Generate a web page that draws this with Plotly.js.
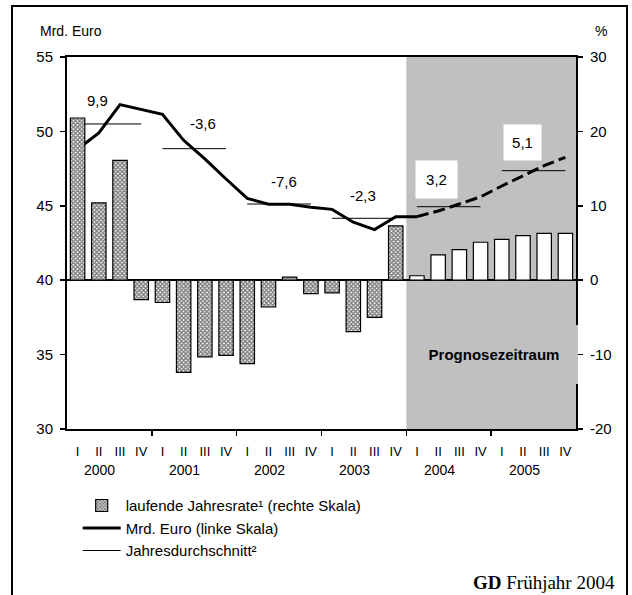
<!DOCTYPE html>
<html><head><meta charset="utf-8">
<script src="https://cdn.plot.ly/plotly-3.0.1.min.js"></script>
<style>
html,body{margin:0;padding:0;background:#fff;}
#chart{width:632px;height:595px;position:relative;}
#frame{position:absolute;left:11px;top:5px;width:617px;height:600px;border:2px solid #000;pointer-events:none;box-sizing:border-box;}
</style></head>
<body>
<div id="chart"></div>
<div id="frame"></div>
<script>
const quarters = ['I','II','III','IV'];
const years = ['2000','2001','2002','2003','2004','2005'];
// laufende Jahresrate (% , rechte Skala)
const rate = [21.8,10.4,16.1,-2.6,-3.0,-12.4,-10.3,-10.1,-11.2,-3.6,0.4,-1.8,-1.7,-6.9,-5.0,7.3,0.6,3.4,4.1,5.1,5.5,6.0,6.3,6.3];
// Mrd. Euro (linke Skala)
const mrdEuro = [48.8,49.9,51.8,51.5,51.15,49.4,48.15,46.8,45.5,45.1,45.1,44.9,44.76,43.9,43.4,44.27,44.27,44.65,45.12,45.6,46.33,47.0,47.7,48.26];
// Jahresdurchschnitt (Mrd. Euro)
const yearAvg = [50.5,48.84,45.12,44.16,44.94,47.36];
const yearChange = ['9,9','-3,6','-7,6','-2,3','3,2','5,1'];
const leftTicks = [30,35,40,45,50,55];
const rightTicks = [-20,-10,0,10,20,30];
const forecastStart = 16; // 2004 I

const FONT = 'Liberation Sans, Arial, sans-serif';
const n = rate.length;
const idx = rate.map((_, i) => i);
const qLabels = idx.map(i => quarters[i % 4]);

const hist = idx.map(i => i < forecastStart);
const barTrace = {
  type: 'bar', x: idx, y: rate, yaxis: 'y2', width: 0.68,
  name: 'laufende Jahresrate¹ (rechte Skala)',
  marker: {
    color: '#ffffff',
    line: {color: '#000', width: 1.2},
    pattern: {
      shape: idx.map(i => hist[i] ? 'x' : ''),
      fgcolor: '#000', bgcolor: '#ffffff', size: 3, solidity: 0.7, fillmode: 'overlay'
    }
  },
  hoverinfo: 'skip'
};

const solidX = idx.filter(i => i <= forecastStart);
const dashX = idx.filter(i => i >= forecastStart);
const lineSolid = {
  type: 'scatter', mode: 'lines', x: solidX, y: solidX.map(i => mrdEuro[i]),
  name: 'Mrd. Euro (linke Skala)', line: {color: '#000', width: 3}, hoverinfo: 'skip'
};
const lineDash = {
  type: 'scatter', mode: 'lines', x: dashX, y: dashX.map(i => mrdEuro[i]),
  showlegend: false, line: {color: '#000', width: 3, dash: '12px,5px'}, hoverinfo: 'skip'
};

const avgX = [], avgY = [];
yearAvg.forEach((v, k) => { avgX.push(k*4, k*4+3, null); avgY.push(v, v, null); });
const avgTrace = {
  type: 'scatter', mode: 'lines', x: avgX, y: avgY, connectgaps: false,
  name: 'Jahresdurchschnitt²', line: {color: '#000', width: 1}, hoverinfo: 'skip'
};

const labelPos = [[0.92,52.1],[1.92,50.5],[1.74,46.6],[1.46,45.66],[0.9,46.77],[0.99,49.25]];
const annotations = [];
yearChange.forEach((t, k) => {
  const fc = k*4 >= forecastStart;
  const a = {x: k*4 + labelPos[k][0], y: labelPos[k][1], xref: 'x', yref: 'y', text: t, showarrow: false,
    font: {family: FONT, size: 15, color: '#000'}};
  if (fc) { a.bgcolor = '#ffffff'; a.width = k === 4 ? 39 : 35; a.height = k === 4 ? 35 : 33; }
  annotations.push(a);
});
years.forEach((y, k) => annotations.push({
  x: k*4 + 1.05, y: -0.11, xref: 'x', yref: 'paper', text: y, showarrow: false,
  font: {family: FONT, size: 14, color: '#000'}, yanchor: 'middle'
}));
annotations.push({x: 19.62, y: 35.0, xref: 'x', yref: 'y', text: '<b>Prognosezeitraum</b>', showarrow: false,
  bgcolor: '#c0c0c0', borderwidth: 0, width: 166, height: 57, font: {family: FONT, size: 15, color: '#000'}});
annotations.push({x: -0.057, y: 1.07, xref: 'paper', yref: 'paper', text: 'Mrd. Euro', showarrow: false,
  xanchor: 'left', yanchor: 'middle', font: {family: FONT, size: 14, color: '#000'}});
annotations.push({x: 1.05, y: 1.07, xref: 'paper', yref: 'paper', text: '%', showarrow: false,
  xanchor: 'center', yanchor: 'middle', font: {family: FONT, size: 14, color: '#000'}});
annotations.push({x: 1.0786, y: -0.412, xref: 'paper', yref: 'paper', text: '<b>GD</b> Frühjahr 2004', showarrow: false,
  xanchor: 'right', yanchor: 'middle', borderpad: 0, font: {family: 'Liberation Serif, Times New Roman, serif', size: 19, color: '#000'}});

const fmt = v => String(v).replace('\u2212', '-');

const layout = {
  width: 632, height: 595,
  margin: {l: 67, r: 56, t: 57, b: 166},
  paper_bgcolor: '#fff', plot_bgcolor: '#fff',
  showlegend: true,
  legend: {x: 0.021, y: -0.162, xanchor: 'left', yanchor: 'top', bgcolor: 'rgba(0,0,0,0)',
    font: {family: FONT, size: 15, color: '#000'}, itemwidth: 38, tracegroupgap: 0, traceorder: 'normal'},
  xaxis: {range: [-0.5, n - 0.5], tickmode: 'array', tickvals: idx, ticktext: qLabels, ticks: '',
    showline: true, linecolor: '#000', linewidth: 2, mirror: true, showgrid: false, zeroline: false,
    tickfont: {family: FONT, size: 13, color: '#000'}, ticklabelstandoff: 9,
    minor: {tickvals: [3.5, 7.5, 11.5, 15.5, 19.5], ticks: 'outside', ticklen: 5, tickcolor: '#000', tickwidth: 1.5, showgrid: false}},
  yaxis: {range: [30, 55], tickmode: 'array', tickvals: leftTicks, ticktext: leftTicks.map(fmt),
    ticks: 'outside', ticklen: 5, tickcolor: '#000', tickwidth: 1.5,
    showline: true, linecolor: '#000', linewidth: 2, showgrid: false, zeroline: false,
    tickfont: {family: FONT, size: 15, color: '#000'}, ticklabelstandoff: 4},
  yaxis2: {range: [-20, 30], tickmode: 'array', tickvals: rightTicks, ticktext: rightTicks.map(fmt),
    overlaying: 'y', side: 'right', ticks: 'outside', ticklen: 5,
    tickcolor: '#000', tickwidth: 1.5, showline: true, linecolor: '#000', linewidth: 2, showgrid: false,
    zeroline: true, zerolinecolor: '#000', zerolinewidth: 1.5,
    tickfont: {family: FONT, size: 15, color: '#000'}, ticklabelstandoff: 4},
  shapes: [{type: 'rect', xref: 'x', yref: 'paper', x0: forecastStart - 0.5, x1: n - 0.5, y0: 0, y1: 1,
    fillcolor: '#c0c0c0', line: {width: 0}, layer: 'below'}],
  annotations: annotations
};

Plotly.newPlot('chart', [barTrace, lineSolid, lineDash, avgTrace], layout, {staticPlot: true, displayModeBar: false});
</script>
</body></html>
